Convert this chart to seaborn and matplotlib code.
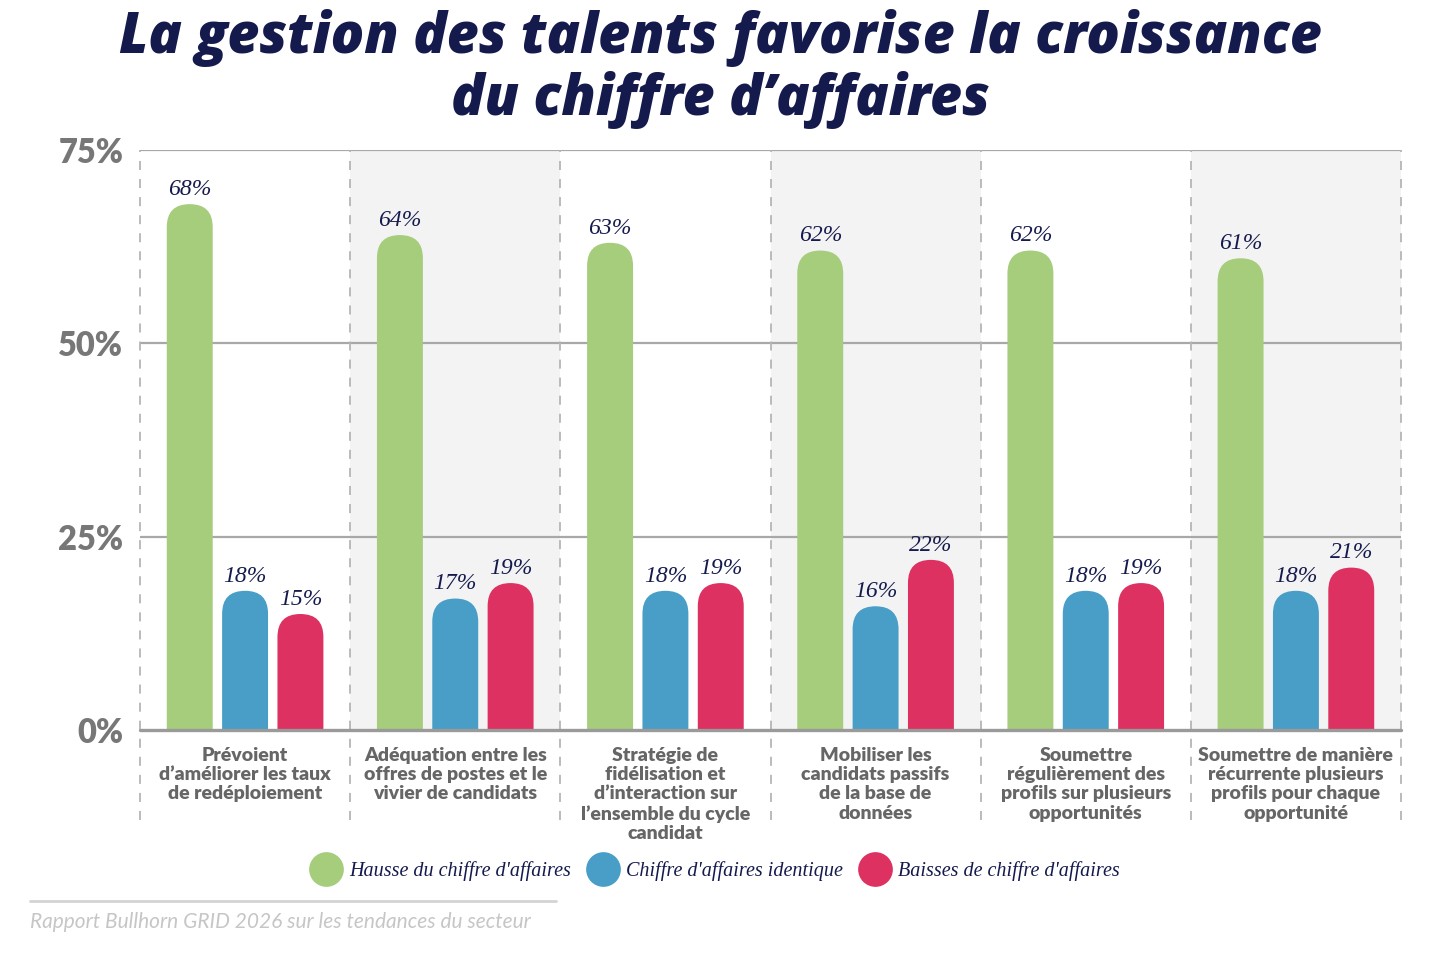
import matplotlib
matplotlib.use('Agg')
import matplotlib.pyplot as plt
import seaborn as sns
import pandas as pd
from matplotlib.patches import FancyBboxPatch
from matplotlib.lines import Line2D

categories = [
    "Prévoient\nd’améliorer les taux\nde redéploiement",
    "Adéquation entre les\noffres de postes et le\nvivier de candidats",
    "Stratégie de\nfidélisation et\nd’interaction sur\nl’ensemble du cycle\ncandidat",
    "Mobiliser les\ncandidats passifs\nde la base de\ndonnées",
    "Soumettre\nrégulièrement des\nprofils sur plusieurs\nopportunités",
    "Soumettre de manière\nrécurrente plusieurs\nprofils pour chaque\nopportunité",
]
series = ["Hausse du chiffre d'affaires", "Chiffre d'affaires identique", "Baisses de chiffre d'affaires"]
hausse = [68, 64, 63, 62, 62, 61]
identique = [18, 17, 18, 16, 18, 18]
baisse = [15, 19, 19, 22, 19, 21]
colors = ["#a5cd7c", "#489ec6", "#dd3162"]
yticks = [0, 25, 50, 75]
ytick_labels = ["0%", "25%", "50%", "75%"]
title = "La gestion des talents favorise la croissance\ndu chiffre d’affaires"
source = "Rapport Bullhorn GRID 2026 sur les tendances du secteur"

NAVY = "#151a4d"
rows = []
for s, vals in zip(series, [hausse, identique, baisse]):
    for c, v in zip(categories, vals):
        rows.append({"cat": c, "series": s, "val": v})
df = pd.DataFrame(rows)

sns.set_style("white")
fig = plt.figure(figsize=(14.4, 9.56), dpi=100)
W, H = 1440, 956
ax = fig.add_axes([140 / W, 1 - 730 / H, (1401 - 140) / W, (730 - 150) / H])

sns.barplot(data=df, x="cat", y="val", hue="series", palette=colors, hue_order=series,
            order=categories, width=0.79, gap=0.17, saturation=1, legend=False,
            errorbar=None, ax=ax)
ax.set_xlim(-0.5, 5.5)
ax.set_ylim(0, 75)

# aspect for round tops
ax_w_px = (1401 - 140)
ax_h_px = (730 - 150)
px_x = ax_w_px / 6.0
px_y = ax_h_px / 75.0
asp = px_x / px_y

for cont, col in zip(ax.containers, colors):
    for bar in cont:
        x0 = bar.get_x(); w = bar.get_width(); h = bar.get_height()
        r = w / 2
        p = FancyBboxPatch((x0, -r * asp), w, h + r * asp,
                           boxstyle=f"round,pad=0,rounding_size={r}",
                           mutation_aspect=asp, fc=col, ec="none", zorder=3,
                           clip_on=True)
        ax.add_patch(p)
        ax.text(x0 + w / 2, h + 1.2, f"{int(h)}%", ha="center", va="baseline",
                family="Liberation Serif", style="italic", fontsize=17,
                color=NAVY, zorder=4)
        bar.set_visible(False)

# background shading
for i in range(6):
    if i % 2 == 1:
        ax.axvspan(i - 0.5, i + 0.5, color="#f3f3f3", zorder=0, lw=0)
# gridlines
for y in [25, 50, 75]:
    ax.axhline(y, color="#a8a8a8", lw=1.6, zorder=1)
ax.axhline(0, color="#9a9a9a", lw=2.4, zorder=5, clip_on=False)
# dashed separators
for xv in [i - 0.5 for i in range(7)]:
    ax.axvline(xv, ymin=-0.155, ymax=1, color="#b5b5b5", lw=1.3,
               ls=(0, (5, 5)), zorder=1, clip_on=False)

for sp in ax.spines.values():
    sp.set_visible(False)

ax.set_xlabel("")
ax.set_ylabel("")
ax.set_yticks(yticks, ytick_labels)
ax.set_xticks(range(6), categories)
ax.tick_params(axis="y", length=0, pad=12, labelsize=23.5, labelcolor="#777777")
ax.tick_params(axis="x", length=0, pad=12, labelsize=14, labelcolor="#666666")
for t in ax.get_yticklabels():
    t.set_family("Lato"); t.set_fontweight("heavy")
for t in ax.get_xticklabels():
    t.set_family("Lato"); t.set_fontweight("heavy"); t.set_linespacing(1.17)

fig.text(0.5, 1 - 69 / H, title, ha="center", va="center", family="Open Sans",
         fontweight="extra bold", style="italic", fontsize=40, color=NAVY,
         linespacing=1.1)

handles = [Line2D([], [], marker="o", ls="", ms=25, mfc=c, mec="none") for c in colors]
fig.legend(handles, series, loc="center", bbox_to_anchor=(718 / W, 1 - 871 / H),
           ncol=3, frameon=False, handlelength=1.0, handletextpad=0.65,
           columnspacing=1.1,
           prop={"family": "Liberation Serif", "style": "italic", "size": 14.5})
for t in fig.legends[0].get_texts():
    t.set_color(NAVY)

fig.add_artist(Line2D([30 / W, 556 / W], [1 - 901 / H, 1 - 901 / H],
                      color="#d4d4d4", lw=2))
fig.text(30 / W, 1 - 922 / H, source, ha="left", va="center", family="Lato",
         style="italic", fontweight="normal", fontsize=15, color="#c6c6c6")

fig.savefig("out.png", dpi=100)
